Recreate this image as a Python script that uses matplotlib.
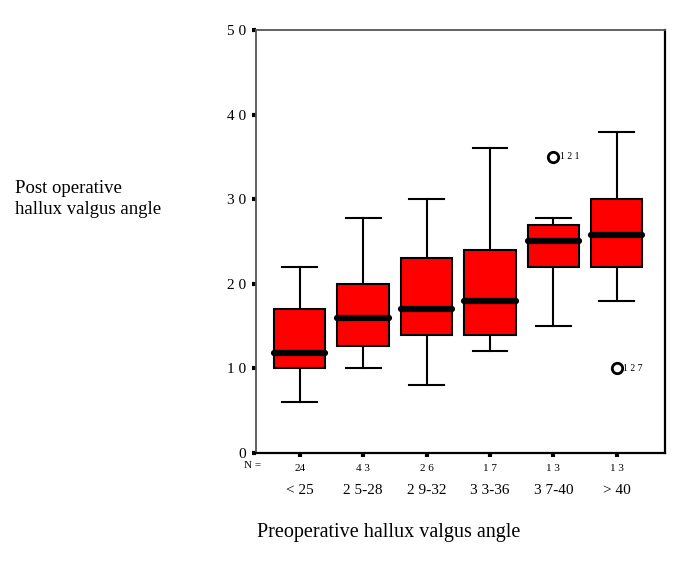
import matplotlib.pyplot as plt
import matplotlib.transforms as mtransforms

plt.rcParams['font.family'] = ['Liberation Serif', 'DejaVu Serif']

# data
categories = ["< 25", "2 5-28", "2 9-32", "3 3-36", "3 7-40", "> 40"]
counts = ["24", "4 3", "2 6", "1 7", "1 3", "1 3"]
whis_low = [6, 10, 8, 12, 15, 18]
q1 = [10, 12.7, 14, 14, 22, 22]
medians = [11.8, 16, 17, 18, 25, 25.8]
q3 = [17, 20, 23, 24, 27, 30]
whis_high = [22, 27.8, 30, 36, 27.8, 38]
outliers = [[], [], [], [], [35], [10]]
outlier_ids = [[], [], [], [], ["1 2 1"], ["1 2 7"]]
y_ticks = [0, 10, 20, 30, 40, 50]
y_labels = ["0", "1 0", "2 0", "3 0", "4 0", "5 0"]

stats = []
for i in range(len(categories)):
    stats.append({
        "whislo": whis_low[i], "q1": q1[i], "med": medians[i],
        "q3": q3[i], "whishi": whis_high[i], "fliers": outliers[i],
    })

fig = plt.figure(figsize=(6.85, 5.7), dpi=100)
ax = fig.add_axes([256 / 685, 1 - 453 / 570, 409 / 685, 423 / 570])

positions = list(range(1, len(categories) + 1))
ax.bxp(stats, positions=positions, widths=0.81, patch_artist=True,
       boxprops=dict(facecolor="#ff0000", edgecolor="black", linewidth=1.5),
       medianprops=dict(color="black", linewidth=4.5, solid_capstyle="round"),
       whiskerprops=dict(color="black", linewidth=1.5),
       capprops=dict(color="black", linewidth=1.5), capwidths=0.55,
       flierprops=dict(marker="o", markersize=7.5, markerfacecolor="none",
                       markeredgecolor="black", markeredgewidth=2))

# outlier case numbers
for i, pos in enumerate(positions):
    for val, lab in zip(outliers[i], outlier_ids[i]):
        ax.annotate(lab, (pos, val), xytext=(4.5, 0), textcoords="offset points",
                    fontsize=7, va="center", ha="left")

ax.set_xlim(0.31, 6.76)
ax.set_ylim(0, 50)
ax.set_yticks(y_ticks)
ax.set_yticklabels(y_labels, fontsize=11)
ax.set_xticks(positions)
ax.set_xticklabels(counts, fontsize=8)
ax.tick_params(axis="both", direction="out", length=3, width=3, color="black")
ax.tick_params(axis="y", pad=4)
ax.tick_params(axis="x", pad=5)

for side in ["left", "top"]:
    ax.spines[side].set_color("#555555")
    ax.spines[side].set_linewidth(1.3)
for side in ["bottom", "right"]:
    ax.spines[side].set_color("black")
    ax.spines[side].set_linewidth(1.6)

trans = mtransforms.blended_transform_factory(ax.transData, fig.transFigure)
for pos, cat in zip(positions, categories):
    ax.text(pos, 1 - 490 / 570, cat, transform=trans, fontsize=11,
            ha="center", va="center")
fig.text(253 / 685, 1 - 466 / 570, "N =", fontsize=8, ha="center", va="center")

fig.text(257 / 685, 1 - 532 / 570, "Preoperative hallux valgus angle",
         fontsize=14.5, ha="left", va="center")
fig.text(15 / 685, 1 - 199 / 570, "Post operative\nhallux valgus angle",
         fontsize=13.5, ha="left", va="center", linespacing=1.3)

fig.savefig("out.png", dpi=100, facecolor="white")
